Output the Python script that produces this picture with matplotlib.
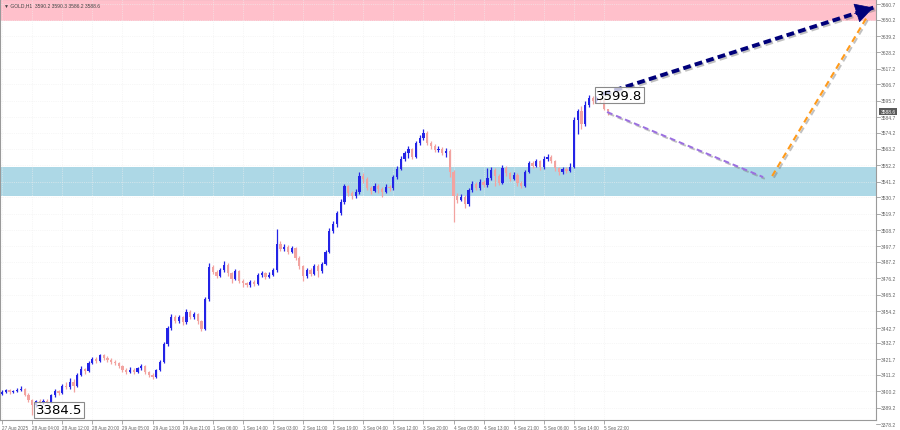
import matplotlib
matplotlib.use('Agg')
import numpy as np
import matplotlib.pyplot as plt
import matplotlib.patheffects as pe
import matplotlib.transforms as mtransforms

# GOLD H1 candles (bar index 0 = 27 Aug 20:00)
first_open = 3398.6
closes = [
    3399.5, 3400.8, 3399.6, 3400.4, 3401.2, 3401.8, 3398.0, 3394.5, 3391.0, 3393.5,
    3392.8, 3393.6, 3393.2, 3397.5, 3400.3, 3399.2, 3404.0, 3403.1, 3406.5, 3404.0,
    3411.5, 3415.0, 3413.8, 3419.5, 3421.8, 3420.5, 3424.3, 3422.6, 3421.4, 3420.0,
    3419.2, 3417.0, 3414.5, 3413.0, 3414.8, 3413.2, 3415.6, 3417.0, 3413.0, 3411.4,
    3409.8, 3414.5, 3420.0, 3432.0, 3442.5, 3450.5, 3447.8, 3449.9, 3446.5, 3453.8,
    3450.0, 3452.0, 3447.2, 3442.1, 3462.0, 3484.0, 3480.5, 3478.0, 3481.5, 3485.5,
    3479.5, 3476.0, 3481.0, 3474.5, 3472.8, 3471.5, 3473.5, 3472.2, 3478.5, 3479.8,
    3477.0, 3478.6, 3481.5, 3499.0, 3495.8, 3497.2, 3494.0, 3496.5, 3490.0, 3484.5,
    3477.5, 3482.0, 3479.0, 3484.8, 3481.2, 3486.0, 3494.0, 3508.0, 3512.5, 3520.0,
    3527.5, 3538.0, 3533.8, 3531.5, 3534.2, 3545.0, 3543.2, 3537.0, 3535.2, 3538.4,
    3536.0, 3534.6, 3537.5, 3536.8, 3544.5, 3550.0, 3556.4, 3560.5, 3563.2, 3558.0,
    3567.0, 3570.5, 3574.0, 3567.5, 3565.0, 3562.2, 3563.5, 3560.8, 3561.8, 3548.0,
    3531.5, 3529.0, 3531.2, 3526.0, 3535.5, 3539.8, 3537.0, 3541.2, 3539.0, 3543.5,
    3549.0, 3545.0, 3540.5, 3550.5, 3546.8, 3543.0, 3546.0, 3540.0, 3538.5, 3547.8,
    3553.5, 3552.0, 3555.0, 3550.8, 3556.8, 3558.0, 3555.0, 3550.2, 3547.5, 3549.8,
    3548.4, 3551.0, 3582.5, 3588.6, 3580.0, 3593.0, 3597.6, 3595.5, 3597.0, 3596.2,
    3590.2, 3588.6,
]
highs = [
    3401.0, 3401.9, 3401.5, 3401.3, 3402.4, 3403.5, 3402.6, 3398.9, 3395.2, 3394.6,
    3394.9, 3395.0, 3394.7, 3398.6, 3401.8, 3401.4, 3405.3, 3406.2, 3408.9, 3408.2,
    3412.8, 3417.4, 3416.2, 3420.6, 3423.0, 3423.4, 3425.6, 3425.0, 3423.8, 3422.5,
    3421.3, 3420.1, 3417.9, 3415.6, 3416.5, 3415.9, 3416.8, 3418.7, 3417.8, 3414.0,
    3412.3, 3415.4, 3421.2, 3433.5, 3444.0, 3452.4, 3451.6, 3451.3, 3450.8, 3455.6,
    3454.6, 3453.5, 3452.8, 3448.0, 3463.5, 3486.2, 3485.3, 3481.9, 3483.0, 3488.0,
    3486.4, 3480.6, 3482.3, 3481.8, 3475.6, 3474.0, 3475.1, 3474.9, 3479.6, 3481.4,
    3480.5, 3480.2, 3483.0, 3509.4, 3501.2, 3499.0, 3498.3, 3498.1, 3497.4, 3491.2,
    3485.3, 3483.4, 3483.1, 3486.1, 3485.6, 3487.3, 3495.5, 3510.2, 3514.8, 3521.7,
    3529.6, 3539.7, 3539.2, 3535.0, 3536.0, 3547.6, 3546.8, 3544.1, 3538.5, 3540.0,
    3539.7, 3537.5, 3539.4, 3539.0, 3545.9, 3551.8, 3558.5, 3562.0, 3564.9, 3564.0,
    3568.4, 3572.3, 3576.6, 3575.0, 3568.9, 3566.3, 3565.0, 3564.7, 3564.2, 3562.9,
    3549.2, 3533.4, 3533.0, 3532.1, 3537.0, 3541.6, 3541.0, 3542.8, 3542.5, 3550.5,
    3551.0, 3550.2, 3546.3, 3552.4, 3551.6, 3548.0, 3547.6, 3547.0, 3541.8, 3549.2,
    3555.3, 3554.9, 3556.5, 3556.0, 3558.2, 3559.5, 3558.9, 3555.8, 3551.1, 3551.0,
    3551.2, 3553.6, 3584.8, 3590.3, 3592.0, 3595.4, 3599.8, 3598.9, 3598.6, 3598.3,
    3597.0, 3590.3,
]
lows = [
    3397.8, 3398.9, 3398.7, 3398.9, 3399.6, 3400.2, 3397.1, 3392.8, 3384.5, 3389.4,
    3391.6, 3391.9, 3391.5, 3392.4, 3396.5, 3397.6, 3398.4, 3401.5, 3402.0, 3399.8,
    3402.9, 3410.2, 3412.1, 3412.9, 3418.3, 3419.0, 3419.8, 3421.4, 3420.2, 3418.6,
    3417.9, 3415.8, 3413.0, 3411.7, 3412.2, 3411.9, 3412.4, 3414.5, 3412.1, 3409.9,
    3408.2, 3408.9, 3413.6, 3419.1, 3430.8, 3441.2, 3446.0, 3446.4, 3445.1, 3445.7,
    3448.7, 3448.9, 3445.8, 3440.6, 3441.5, 3460.8, 3478.9, 3476.4, 3476.8, 3480.2,
    3478.0, 3473.1, 3475.0, 3472.9, 3470.5, 3470.1, 3470.4, 3470.8, 3471.5, 3477.2,
    3475.6, 3476.1, 3477.5, 3480.6, 3494.3, 3494.6, 3492.5, 3493.2, 3488.6, 3482.7,
    3474.6, 3476.3, 3477.6, 3478.2, 3476.9, 3480.0, 3484.9, 3493.1, 3506.6, 3511.0,
    3518.8, 3526.4, 3531.9, 3529.6, 3530.2, 3533.1, 3540.5, 3535.4, 3533.2, 3534.1,
    3533.8, 3531.0, 3533.5, 3535.2, 3535.6, 3543.0, 3548.8, 3555.1, 3557.2, 3556.6,
    3557.0, 3565.8, 3569.4, 3566.1, 3563.2, 3560.9, 3561.0, 3559.2, 3558.0, 3544.6,
    3514.0, 3527.2, 3527.9, 3523.8, 3525.1, 3534.2, 3535.5, 3535.9, 3537.3, 3537.8,
    3542.4, 3538.0, 3539.2, 3539.6, 3545.1, 3541.7, 3542.2, 3538.5, 3537.0, 3537.6,
    3546.9, 3550.4, 3550.9, 3549.3, 3550.0, 3555.4, 3553.6, 3548.7, 3545.9, 3546.4,
    3547.0, 3547.5, 3550.2, 3573.0, 3576.8, 3578.8, 3591.5, 3593.8, 3594.1, 3594.2,
    3589.4, 3586.2,
]
opens = [first_open] + closes[:-1]

price_ticks = [3660.7, 3650.2, 3639.2, 3628.2, 3617.2, 3606.7, 3595.7, 3584.7, 3574.2,
               3563.2, 3552.2, 3541.2, 3530.7, 3519.7, 3508.7, 3497.7, 3487.2, 3476.2,
               3465.2, 3454.2, 3442.7, 3432.7, 3421.7, 3411.2, 3400.2, 3389.2, 3378.2]
date_labels = ['27 Aug 2025', '28 Aug 04:00', '28 Aug 12:00', '28 Aug 20:00', '29 Aug 05:00',
               '29 Aug 13:00', '29 Aug 21:00', '1 Sep 06:00', '1 Sep 14:00', '2 Sep 03:00',
               '2 Sep 11:00', '2 Sep 19:00', '3 Sep 04:00', '3 Sep 12:00', '3 Sep 20:00',
               '4 Sep 05:00', '4 Sep 13:00', '4 Sep 21:00', '5 Sep 06:00', '5 Sep 14:00',
               '5 Sep 22:00']
date_bars = list(range(0, 161, 8))

header = '\u25bc GOLD,H1  3590.2 3590.3 3586.2 3588.6'
last_price = 3588.6
top_mark = (156, 3599.8)
low_mark = (8, 3384.5)

resist_zone = (3649.3, 3670.0)
support_zone = (3531.6, 3551.1)
main_path = ([159.7, 231.6], [3600.2, 3658.3])
pull_path = ([160.8, 202.3], [3588.1, 3544.3])
push_path = ([204.7, 229.9], [3545.0, 3652.0])

bull_col = '#2323e6'
bear_col = '#f2a3a0'
small_font = ['Liberation Sans Narrow', 'Liberation Sans', 'DejaVu Sans']

fig = plt.figure(figsize=(9, 4.31), dpi=100)
ax = fig.add_axes([0.0, 10 / 431, 876 / 900, 421 / 431])
ax.set_xlim(-0.55, 232.3)
ax.set_ylim(3380.9, 3664.1)

# zones
ax.axhspan(*resist_zone, color='#ffc0cb', lw=0, zorder=0)
ax.axhspan(*support_zone, color='#add8e6', lw=0, zorder=0)

# faint MT4 grid
ax.hlines(price_ticks, -1, 240, colors='#efefef', lw=0.5, linestyles=':', zorder=0.5)
ax.vlines(date_bars, 3300, 3700, colors='#efefef', lw=0.5, linestyles=':', zorder=0.5)

# candles
o = np.array(opens)
c = np.array(closes)
x = np.arange(len(c))
cols = np.where(c >= o, bull_col, bear_col)
ax.vlines(x, lows, highs, colors=cols, lw=0.9, zorder=2)
body = np.maximum(np.abs(c - o), 0.35)
ax.bar(x, body, bottom=np.minimum(o, c), width=0.6, color=cols, lw=0, zorder=2)

# labels at extremes
box = dict(boxstyle='square,pad=0.12', fc=(1, 1, 1, 0.75), ec='#8a8a8a', lw=0.8)
ax.text(top_mark[0] + 2, top_mark[1] - 0.3, '%.1f' % top_mark[1], fontsize=9.5,
        va='center', ha='left', color='black', bbox=box, zorder=4)
ax.text(low_mark[0] + 1, low_mark[1] + 3.3, '%.1f' % low_mark[1], fontsize=9.5,
        va='center', ha='left', color='black', bbox=box, zorder=4)

# forecast paths
shadow = [pe.SimpleLineShadow(offset=(1.2, -1.2), shadow_color='#777777', alpha=0.45), pe.Normal()]
ax.plot(*pull_path, color='#9b6fe0', lw=1.4, ls=(0, (3, 2)), path_effects=shadow, zorder=3)
ax.plot(*push_path, color='#ff9a1a', lw=1.5, ls=(0, (3, 2)), path_effects=shadow, zorder=3)
ax.plot(*main_path, color='#00007a', lw=2.8, ls=(0, (2, 1.1)), path_effects=shadow, zorder=3,
        dash_capstyle='butt')
mx, my = main_path
tail = (mx[0] + 0.93 * (mx[1] - mx[0]), my[0] + 0.93 * (my[1] - my[0]))
ax.annotate('', xy=(mx[1], my[1]), xytext=tail, annotation_clip=False, zorder=3,
            arrowprops=dict(arrowstyle='-|>,head_length=1.0,head_width=0.55', color='#00007a',
                            lw=0.5, shrinkA=0, shrinkB=0, mutation_scale=12))

# header
ax.text(0.004, 0.992, header, transform=ax.transAxes, fontsize=3.6, va='top', ha='left',
        color='#444444', zorder=5, family=small_font)

# frame and axes
for s in ax.spines.values():
    s.set_color('#9a9a9a')
    s.set_linewidth(0.8)
ax.set_yticks([])
ax.set_xticks(date_bars)
ax.set_xticklabels(date_labels, ha='left', fontsize=3.3, color='#666666', family=small_font)
ax.tick_params(axis='x', direction='out', length=3, width=0.5, color='#888888', pad=0.5)

# right price scale
trans = mtransforms.blended_transform_factory(ax.transAxes, ax.transData)
for p in price_ticks:
    ax.plot([1.0, 1.004], [p, p], transform=trans, color='#888888', lw=0.5, clip_on=False)
    ax.text(1.006, p, '%.1f' % p, transform=trans, fontsize=3.6, color='#666666',
            va='center', ha='left', clip_on=False, family=small_font)
ax.text(1.005, last_price, '%.1f' % last_price, transform=trans, fontsize=3.6, color='white',
        va='center', ha='left', clip_on=False, zorder=6, family=small_font,
        bbox=dict(boxstyle='square,pad=0.2', fc='#5a5a5a', ec='none'))

fig.savefig('out.png', dpi=100)
